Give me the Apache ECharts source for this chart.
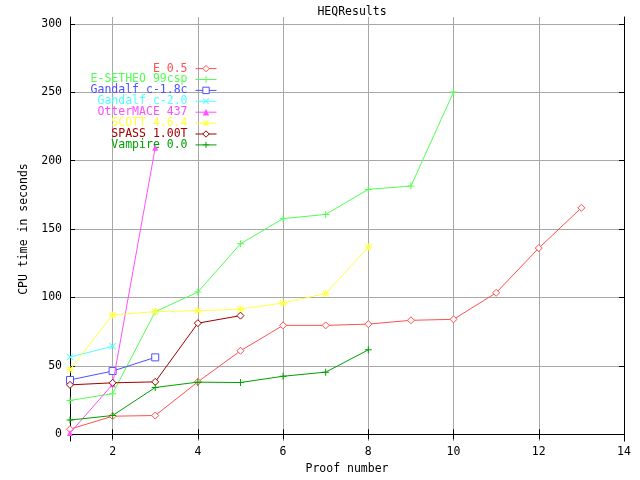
<!DOCTYPE html>
<html>
<head>
<meta charset="utf-8">
<script src="https://cdn.jsdelivr.net/npm/echarts@6/dist/echarts.min.js"></script>
<style>html,body{margin:0;padding:0;background:#fff}#c{width:640px;height:480px}</style>
</head>
<body>
<div id="c"></div>
<script>
var seriesNames = ['E 0.5','E-SETHEO 99csp','Gandalf c-1.8c','Gandalf c-2.0','OtterMACE 437','SCOTT 4.6.4','SPASS 1.00T','Vampire 0.0'];
var xTicks = [2,4,6,8,10,12,14];
var yTicks = [0,50,100,150,200,250,300];
var dataE = [[1,3.7],[2,13.2],[3,13.7],[4,38.3],[5,61],[6,79.6],[7,79.6],[8,80.5],[9,83.3],[10,84],[11,103.4],[12,136.1],[13,165.5]];
var dataESetheo = [[1,24.7],[2,29.7],[3,89.6],[4,103.9],[5,139.2],[6,157.6],[7,160.7],[8,179],[9,181.4],[10,250.1]];
var dataGandalf18 = [[1,39.7],[2,46.2],[3,56.2]];
var dataGandalf20 = [[1,56.4],[2,64.3]];
var dataOtter = [[1,0.9],[2,36.5],[3,209.5]];
var dataScott = [[1,47.4],[2,87.2],[3,89.6],[4,90.3],[5,91.5],[6,96],[7,102.9],[8,136.8]];
var dataSpass = [[1,36.1],[2,37.6],[3,38.3],[4,81.2],[5,86.7]];
var dataVampire = [[1,10.4],[2,13.7],[3,34.2],[4,38.1],[5,37.8],[6,42.4],[7,45.4],[8,61.7]];

var colors = ['#ff5050','#50ff50','#5050ff','#50ffff','#ff50ff','#ffff40','#a00000','#00a000'];
var allData = [dataE,dataESetheo,dataGandalf18,dataGandalf20,dataOtter,dataScott,dataSpass,dataVampire];

var PLUS = 'path://M3,0H4V3H7V4H4V7H3V4H0V3H3Z';
var XS = 'path://M0,0.7L0.7,0L3.5,2.8L6.3,0L7,0.7L4.2,3.5L7,6.3L6.3,7L3.5,4.2L0.7,7L0,6.3L2.8,3.5Z';
var STAR = 'path://M3,0H4V3H7V4H4V7H3V4H0V3H3ZM0,0.7L0.7,0L3.5,2.8L6.3,0L7,0.7L4.2,3.5L7,6.3L6.3,7L3.5,4.2L0.7,7L0,6.3L2.8,3.5Z';
var symbols = [
  {s:'diamond', size:7, hollow:true},
  {s:PLUS, size:7, hollow:false},
  {s:'rect', size:7, hollow:true},
  {s:XS, size:7, hollow:false},
  {s:'triangle', size:6, hollow:false},
  {s:STAR, size:7, hollow:false},
  {s:'diamond', size:7, hollow:true},
  {s:PLUS, size:7, hollow:false}
];
var FONT = 'DejaVu Sans Mono';
var FS = 11.5;

var series = seriesNames.map(function(n,i){
  var sy = symbols[i];
  return {
    name: n, type: 'line', data: allData[i],
    symbol: sy.s, symbolSize: sy.size, showAllSymbol: true,
    lineStyle: {color: colors[i], width: 1},
    itemStyle: sy.hollow ? {color:'#ffffff', borderColor: colors[i], borderWidth: 1} : {color: colors[i], borderWidth: 0},
    emphasis: {disabled: true},
    animation: false,
    z: 2 + i
  };
});

var legends = seriesNames.map(function(n,i){
  return {
    data: [n], orient: 'horizontal', align: 'right',
    right: 423, top: 66.6 + i*10.9 - 4,
    itemWidth: 21, itemHeight: 8, padding: 0, selectedMode: false,
    lineStyle: {width: 1},
    itemStyle: {borderWidth: symbols[i].hollow ? 1 : 0},
    textStyle: {color: colors[i], fontFamily: FONT, fontSize: FS, lineHeight: 8, padding: [0,3,0,0]}
  };
});

var axisBase = {
  type: 'value',
  axisLine: {show: true, lineStyle: {color: '#000', width: 1}},
  axisTick: {show: true, inside: true, length: 5, lineStyle: {color: '#000', width: 1}},
  splitLine: {show: false}
};

var option = {
  backgroundColor: '#ffffff',
  animation: false,
  title: {text: 'HEQResults', left: 347, textAlign: 'center', top: 1,
    textStyle: {fontFamily: FONT, fontSize: FS, fontWeight: 'normal', color: '#000'}},
  legend: legends,
  grid: {left: 70, right: 16, top: 17, height: 433, containLabel: false},
  xAxis: [
    Object.assign({}, axisBase, {
      position: 'bottom', min: 1, max: 14,
      axisTick: {show: true, inside: true, length: 5, customValues: xTicks, lineStyle: {color: '#000', width: 1}},
      axisLabel: {customValues: xTicks, color: '#000', fontFamily: FONT, fontSize: FS, margin: 5, showMaxLabel: true},
      splitLine: {show: true, lineStyle: {color: '#a8a8a8', width: 1}},
      name: 'Proof number', nameLocation: 'middle', nameGap: 16,
      nameTextStyle: {color: '#000', fontFamily: FONT, fontSize: FS}
    }),
    Object.assign({}, axisBase, {
      position: 'top', min: 1, max: 14,
      axisTick: {show: true, inside: true, length: 5, customValues: xTicks, lineStyle: {color: '#000', width: 1}},
      axisLabel: {show: false}
    })
  ],
  yAxis: [
    Object.assign({}, axisBase, {
      position: 'left', min: -5, max: 305,
      axisTick: {show: true, inside: true, length: 5, customValues: yTicks, lineStyle: {color: '#000', width: 1}},
      axisLabel: {customValues: yTicks, color: '#000', fontFamily: FONT, fontSize: FS, margin: 8},
      splitLine: {show: true, lineStyle: {color: '#a8a8a8', width: 1}},
      name: 'CPU time in seconds', nameLocation: 'middle', nameGap: 31,
      nameTextStyle: {color: '#000', fontFamily: FONT, fontSize: FS}
    }),
    Object.assign({}, axisBase, {
      position: 'right', min: -5, max: 305,
      axisTick: {show: true, inside: true, length: 5, customValues: yTicks, lineStyle: {color: '#000', width: 1}},
      axisLabel: {show: false}
    })
  ],
  series: series
};

var chart = echarts.init(document.getElementById('c'), null, {renderer: 'canvas'});
chart.setOption(option);
</script>
</body>
</html>
